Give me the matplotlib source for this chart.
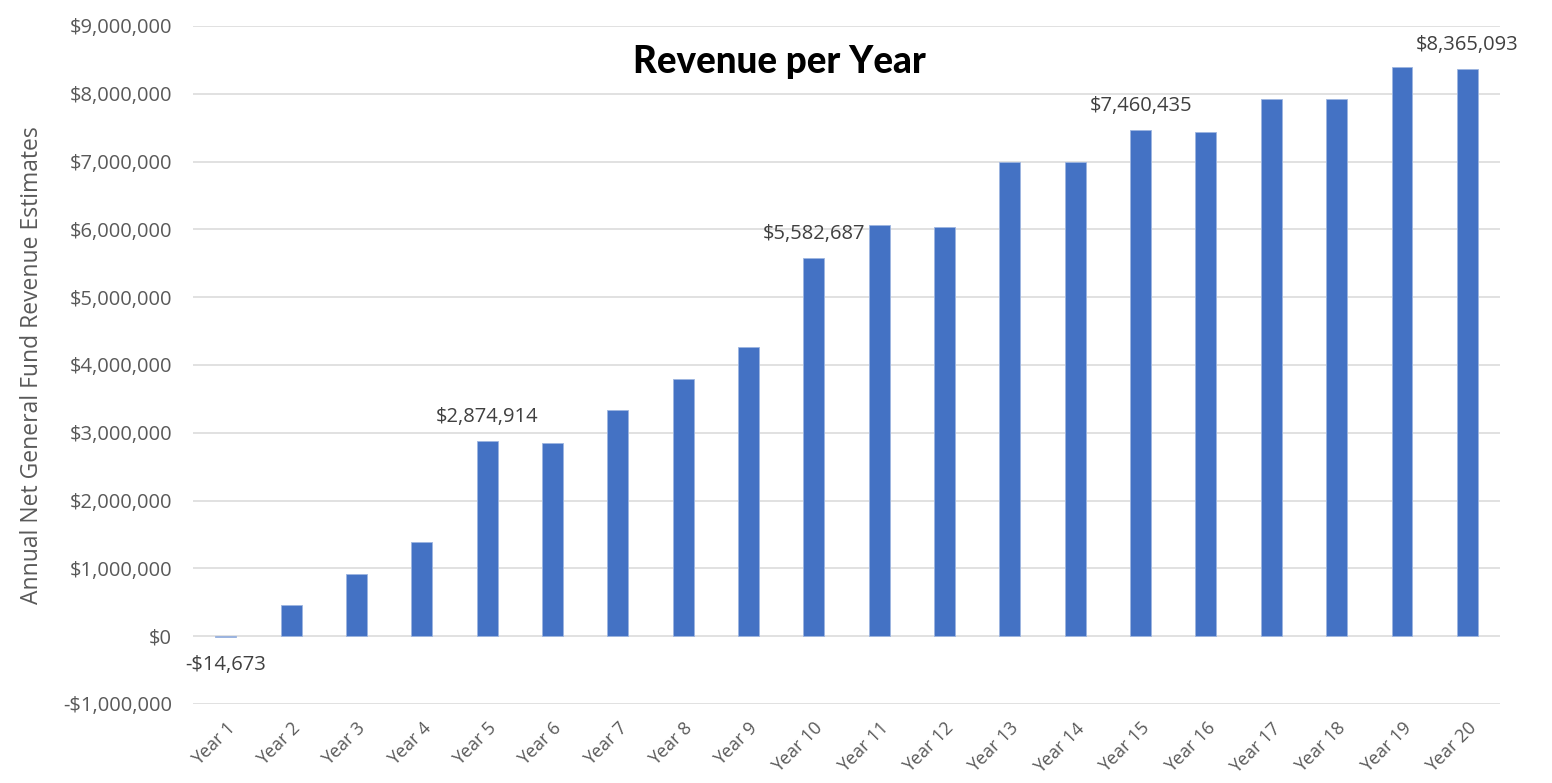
import numpy as np
import matplotlib
matplotlib.use("Agg")
import matplotlib.pyplot as plt
from matplotlib.ticker import FuncFormatter

years = [f"Year {i}" for i in range(1, 21)]
revenue = [-14673, 455000, 910000, 1385000, 2874914, 2845000, 3330000, 3800000,
           4270000, 5582687, 6070000, 6040000, 6990000, 6990000, 7460435, 7440000,
           7920000, 7920000, 8400000, 8365093]
labelled = [0, 4, 9, 14, 19]  # bars that carry a value label

plt.rcParams['font.family'] = ['Open Sans', 'DejaVu Sans']

fig = plt.figure(figsize=(15.52, 7.83), dpi=100)
ax = fig.add_axes([0.1244, 0.1009, 0.8421, 0.8659])

x = np.arange(len(years))
bars = ax.bar(x, revenue, width=0.32, color='#4472C4', edgecolor='#9db5e0',
              linewidth=0.6, zorder=3)

ax.set_xlim(-0.5, len(years) - 0.5)
ax.set_ylim(-1_000_000, 9_000_000)
ax.set_yticks(np.arange(-1_000_000, 9_000_001, 1_000_000))

def dollars(v, pos=None):
    return f"-${abs(v):,.0f}" if v < 0 else f"${v:,.0f}"

ax.yaxis.set_major_formatter(FuncFormatter(dollars))
ax.grid(axis='y', color='#d9d9d9', linewidth=1.1, zorder=0)
for s in ax.spines.values():
    s.set_visible(False)
ax.tick_params(axis='both', length=0, labelcolor='#595959')
ax.tick_params(axis='y', pad=15, labelsize=14.5)
ax.tick_params(axis='x', pad=11, labelsize=13)
ax.set_xticks(x)
ax.set_xticklabels(years, rotation=45, ha='right', rotation_mode='anchor')

ax.set_ylabel("Annual Net General Fund Revenue Estimates", fontsize=16.5,
              color='#595959', labelpad=14)

for i in labelled:
    v = revenue[i]
    if v < 0:
        ax.annotate(dollars(v), (x[i], v), xytext=(0, -13), textcoords='offset points',
                    ha='center', va='top', fontsize=14.5, color='#404040')
    else:
        ax.annotate(dollars(v), (x[i], v), xytext=(0, 10), textcoords='offset points',
                    ha='center', va='bottom', fontsize=14.5, color='#404040')

fig.text(0.5025, 1 - 62 / 783, "Revenue per Year", ha='center', va='center',
         fontsize=26.5, fontweight='black', family=['Lato', 'DejaVu Sans'], color='black')

fig.savefig("out.png", dpi=100, facecolor='white')
